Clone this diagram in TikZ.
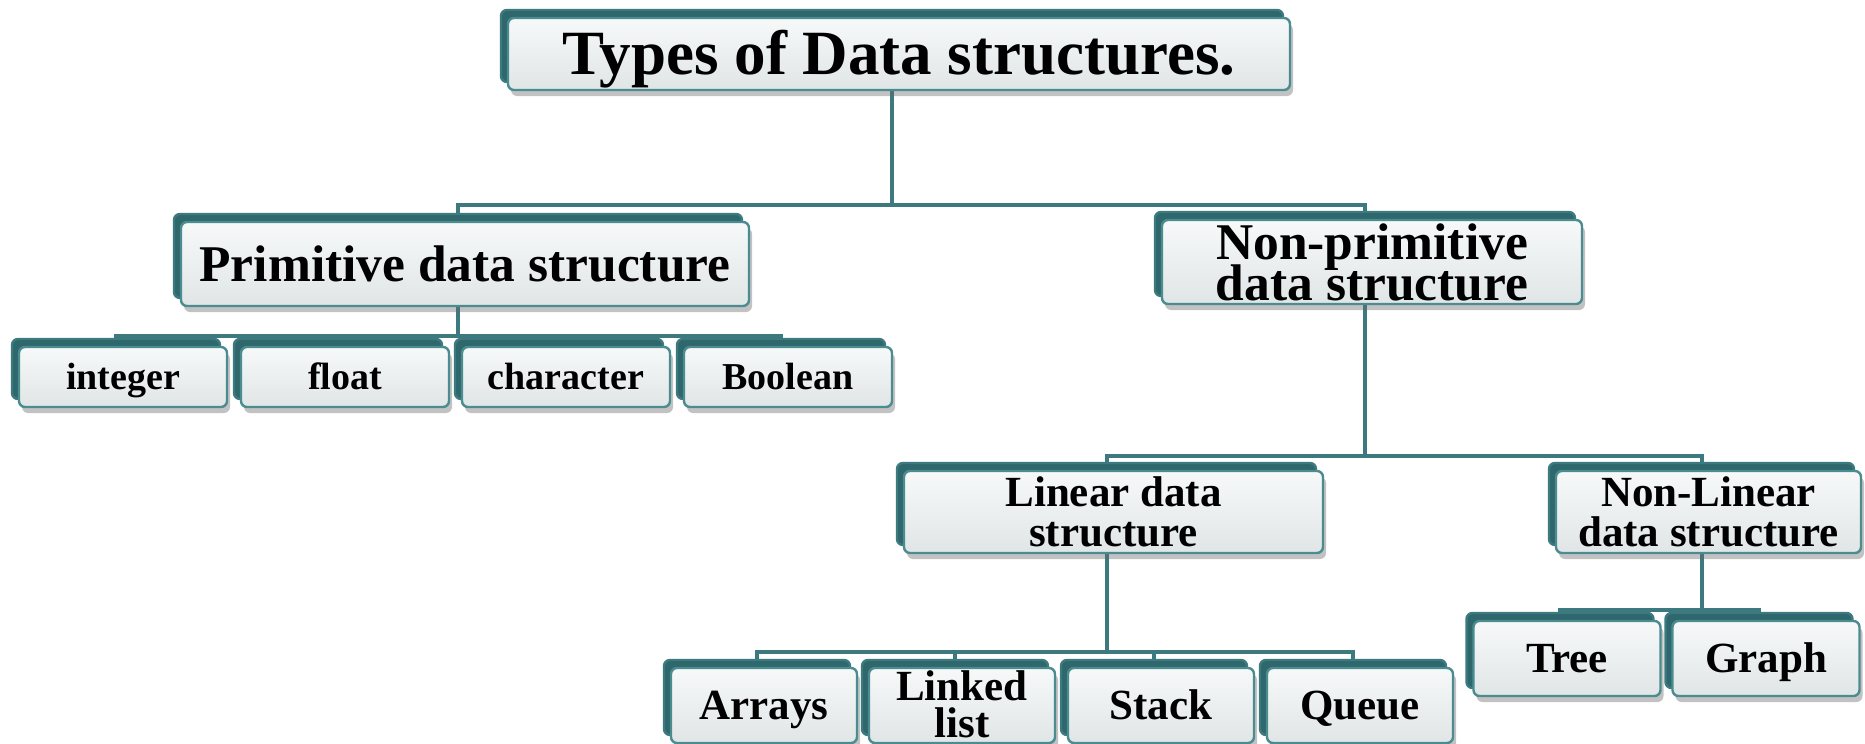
\documentclass[tikz,border=0pt]{standalone}
\usepackage{fontspec}
\setmainfont{Liberation Serif}
\usetikzlibrary{shadows,backgrounds}
\definecolor{tealc}{HTML}{3C7A80}
\definecolor{edgec}{HTML}{4B8C91}
\definecolor{backc}{HTML}{2E676C}
\definecolor{boxtop}{HTML}{F7F9F9}
\definecolor{boxbot}{HTML}{E0E5E6}
\tikzset{
  box/.style={draw=edgec, line width=1.2pt, rounded corners=3pt,
    top color=boxtop, bottom color=boxbot, align=center, inner sep=0pt, text=black,
    drop shadow={shadow xshift=1.5pt, shadow yshift=-3pt, opacity=0.4, fill=black!60},
    copy shadow={shadow xshift=-3.5pt, shadow yshift=4pt, fill=backc, draw=tealc, line width=1.2pt}},
  conn/.style={draw=tealc, line width=2pt},
  lvl0/.style={box, text height=20.8pt, text depth=0pt, minimum width=391pt, minimum height=36pt,
    font=\fontsize{31.5}{33}\selectfont\bfseries},
  lvl1/.style={box, minimum width=284pt, minimum height=42pt,
    font=\fontsize{25.75}{20.5}\selectfont\bfseries},
  small/.style={box, text height=12.5pt, text depth=0pt, minimum width=104pt, minimum height=30pt,
    font=\fontsize{19}{20}\selectfont\bfseries},
  lvl3/.style={box, minimum width=209.5pt, minimum height=41pt,
    font=\fontsize{21.5}{20}\selectfont\bfseries},
  leaf/.style={box, minimum width=93pt, minimum height=37.5pt,
    font=\fontsize{21.5}{18.5}\selectfont\bfseries},
  leafone/.style={leaf, text height=14.2pt, text depth=0pt},
}
\newcommand{\forkto}[3]{%
  \coordinate (fk) at ([xshift=-3.5pt]#1.south);
  \coordinate (fy) at (0,#2);
  \draw[conn] (fk) -- (fk |- fy);
  \foreach \c in {#3} {\draw[conn, line join=miter] (fk |- fy) -| ([xshift=-3.5pt]\c.north);}
}
\begin{document}
\lineskiplimit=-20pt\relax
\begin{tikzpicture}[x=0.5pt,y=-0.5pt]
\useasboundingbox (0,0) rectangle (1865,744);
\node[lvl0] (top) at (899,54) {Types of Data structures.};
\node[lvl1, text height=17pt, text depth=0pt] (prim) at (465,264) {Primitive data structure};
\node[lvl1, minimum width=210pt] (nonprim) at (1372,262) {Non-primitive\\data structure};
\node[small] (int) at (123,377) {integer};
\node[small] (flt) at (345,377) {float};
\node[small] (chr) at (566,377) {character};
\node[small] (bool) at (788,377) {Boolean};
\node[lvl3] (lin) at (1113.5,512) {Linear data\\structure};
\node[lvl3, minimum width=152.5pt] (nonlin) at (1708.5,512) {Non-Linear\\data structure};
\node[leafone] (arr) at (764,705.5) {Arrays};
\node[leaf, text depth=1pt] (ll) at (962,705.5) {Linked\\list};
\node[leafone] (stk) at (1161,705.5) {Stack};
\node[leafone] (que) at (1360,705.5) {Queue};
\node[leafone, minimum width=93.5pt] (tree) at (1567,658.5) {Tree};
\node[leafone, minimum width=93.5pt] (graph) at (1766,658.5) {Graph};
\begin{scope}[on background layer]
  \forkto{top}{205}{prim,nonprim}
  \forkto{prim}{336}{int,flt,chr,bool}
  \forkto{nonprim}{456}{lin,nonlin}
  \forkto{lin}{652}{arr,ll,stk,que}
  \forkto{nonlin}{610}{tree,graph}
\end{scope}
\end{tikzpicture}
\end{document}
